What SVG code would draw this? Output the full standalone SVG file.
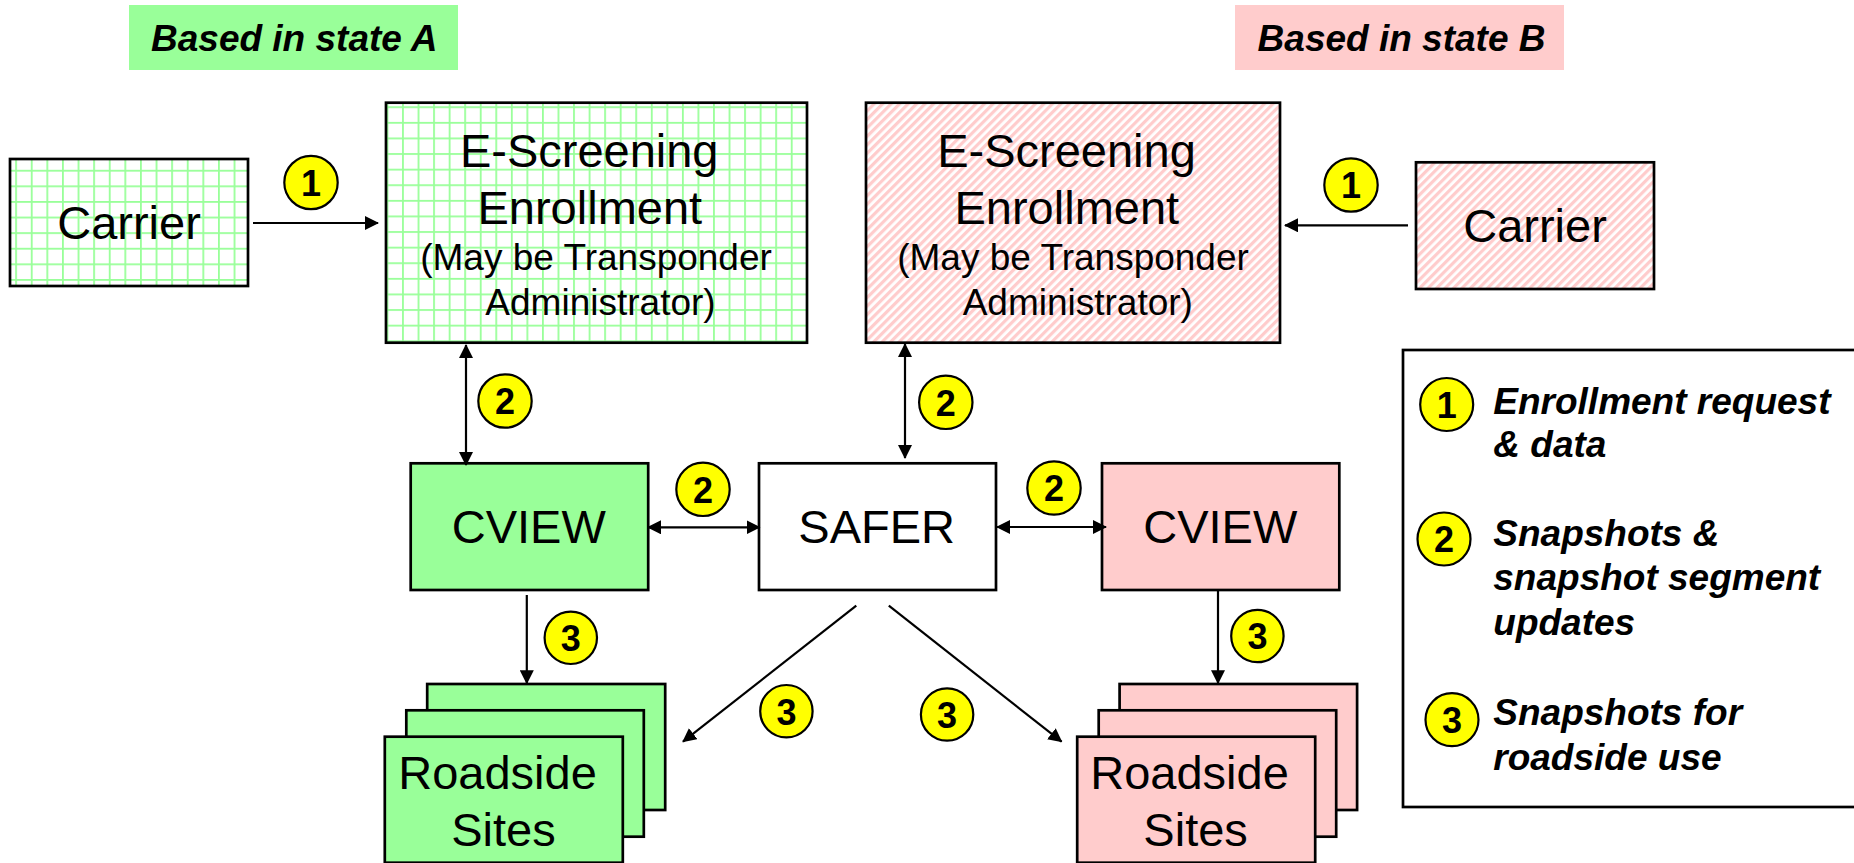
<svg xmlns="http://www.w3.org/2000/svg" width="1854" height="863" viewBox="0 0 1854 863">
<style>
  .box { stroke: #000; stroke-width: 2.7; }
  .green { fill: #99FF99; }
  .pink { fill: #FFCCCC; }
  .white { fill: #FFFFFF; }
  .big { font-family: "Liberation Sans", Arial, sans-serif; font-size: 47px; fill: #000; text-anchor: middle; }
  .small { font-family: "Liberation Sans", Arial, sans-serif; font-size: 37px; fill: #000; text-anchor: middle; }
  .state { font-family: "Liberation Sans", Arial, sans-serif; font-size: 37px; font-weight: bold; font-style: italic; fill: #000; }
  .leg { font-family: "Liberation Sans", Arial, sans-serif; font-size: 37px; font-weight: bold; font-style: italic; fill: #000; }
  .badge circle { fill: #FFFF00; stroke: #000; stroke-width: 2.2; }
  .badge text { font-family: "Liberation Sans", Arial, sans-serif; font-size: 36px; font-weight: bold; fill: #000; text-anchor: middle; }
  .conn { stroke: #000; stroke-width: 2.2; fill: none; }
</style>
<defs>
  <marker id="ah" viewBox="0 0 14 14" refX="13" refY="7" markerWidth="14" markerHeight="14" markerUnits="userSpaceOnUse" orient="auto-start-reverse">
    <path d="M0,0 L14,7 L0,14 z" fill="#000"/>
  </marker>
  <pattern id="gridC" patternUnits="userSpaceOnUse" x="15.2" y="154.2" width="15.6" height="15.6">
    <rect width="15.6" height="15.6" fill="#FFFFFF"/>
    <rect x="0" y="0" width="1.8" height="15.6" fill="#99FF99"/>
    <rect x="0" y="0" width="15.6" height="1.8" fill="#99FF99"/>
  </pattern>
  <pattern id="gridE" patternUnits="userSpaceOnUse" x="386.5" y="106.3" width="15.55" height="15.6">
    <rect width="15.55" height="15.6" fill="#FFFFFF"/>
    <rect x="0" y="0" width="1.8" height="15.6" fill="#99FF99"/>
    <rect x="0" y="0" width="15.55" height="1.8" fill="#99FF99"/>
  </pattern>
  <pattern id="hatch" patternUnits="userSpaceOnUse" width="6" height="6" patternTransform="rotate(45)">
    <rect width="6" height="6" fill="#FFFFFF"/>
    <rect x="0" y="0" width="3.2" height="6" fill="#FFCCCC"/>
  </pattern>
</defs>

<g id="label-state-a">
  <rect x="129" y="5" width="329" height="65" fill="#99FF99"/>
  <text class="state" x="151" y="50.7">Based in state A</text>
</g>
<g id="label-state-b">
  <rect x="1235" y="5" width="329" height="65" fill="#FFCCCC"/>
  <text class="state" x="1257.6" y="50.7">Based in state B</text>
</g>

<g id="carrier-a">
  <rect class="box" x="10" y="159" width="238" height="127" fill="url(#gridC)"/>
  <text class="big" x="129" y="239.3">Carrier</text>
</g>
<g id="escreening-a">
  <rect class="box" x="386" y="102.7" width="421" height="240" fill="url(#gridE)"/>
  <text class="big" x="589.2" y="166.7">E-Screening</text>
  <text class="big" x="589.8" y="224">Enrollment</text>
  <text class="small" x="596" y="270">(May be Transponder</text>
  <text class="small" x="600.5" y="315">Administrator)</text>
</g>
<g id="escreening-b">
  <rect class="box" x="866" y="102.7" width="414" height="240" fill="url(#hatch)"/>
  <text class="big" x="1066.5" y="166.7">E-Screening</text>
  <text class="big" x="1066.8" y="224">Enrollment</text>
  <text class="small" x="1073" y="270">(May be Transponder</text>
  <text class="small" x="1077.8" y="315">Administrator)</text>
</g>
<g id="carrier-b">
  <rect class="box" x="1416" y="162.3" width="238" height="126.7" fill="url(#hatch)"/>
  <text class="big" x="1535" y="242.3">Carrier</text>
</g>

<g id="cview-a">
  <rect class="box green" x="410.7" y="463.3" width="237.5" height="126.7"/>
  <text class="big" x="528.8" y="543.3">CVIEW</text>
</g>
<g id="safer">
  <rect class="box white" x="759" y="463.3" width="237" height="126.7"/>
  <text class="big" x="876.7" y="543.3">SAFER</text>
</g>
<g id="cview-b">
  <rect class="box pink" x="1102" y="463.3" width="237.3" height="126.7"/>
  <text class="big" x="1220.3" y="543.3">CVIEW</text>
</g>

<g id="roadside-a">
  <rect class="box green" x="427.2" y="684" width="238" height="126"/>
  <rect class="box green" x="406.3" y="710.3" width="237.5" height="126.4"/>
  <rect class="box green" x="384.8" y="736.7" width="238" height="126"/>
  <text class="big" x="497.5" y="789.3">Roadside</text>
  <text class="big" x="503.4" y="846">Sites</text>
</g>
<g id="roadside-b">
  <rect class="box pink" x="1119.6" y="684" width="237.5" height="126"/>
  <rect class="box pink" x="1098.7" y="710.3" width="237.5" height="126.4"/>
  <rect class="box pink" x="1077.2" y="736.7" width="238" height="126"/>
  <text class="big" x="1189.5" y="789.3">Roadside</text>
  <text class="big" x="1195.6" y="846">Sites</text>
</g>

<g id="legend">
  <rect x="1403" y="350" width="470" height="457" fill="#FFFFFF" stroke="#000" stroke-width="2.7"/>
  <g class="badge"><circle cx="1446.7" cy="404.5" r="26.5"/><text x="1446.7" y="417.8">1</text></g>
  <text class="leg" x="1493.3" y="414">Enrollment request</text>
  <text class="leg" x="1493.3" y="457.3">&amp; data</text>
  <g class="badge"><circle cx="1444" cy="539" r="26.5"/><text x="1444" y="552.3">2</text></g>
  <text class="leg" x="1493.3" y="546">Snapshots &amp;</text>
  <text class="leg" x="1493.3" y="590">snapshot segment</text>
  <text class="leg" x="1493.3" y="635">updates</text>
  <g class="badge"><circle cx="1452" cy="719.7" r="26.5"/><text x="1452" y="733">3</text></g>
  <text class="leg" x="1493.3" y="725">Snapshots for</text>
  <text class="leg" x="1493.3" y="770">roadside use</text>
</g>

<g id="connectors">
  <line class="conn" x1="253" y1="223" x2="378" y2="223" marker-end="url(#ah)"/>
  <line class="conn" x1="1408" y1="225.3" x2="1285" y2="225.3" marker-end="url(#ah)"/>
  <line class="conn" x1="466" y1="345" x2="466" y2="465" marker-start="url(#ah)" marker-end="url(#ah)"/>
  <line class="conn" x1="905" y1="344" x2="905" y2="458" marker-start="url(#ah)" marker-end="url(#ah)"/>
  <line class="conn" x1="648" y1="527.3" x2="759.5" y2="527.3" marker-start="url(#ah)" marker-end="url(#ah)"/>
  <line class="conn" x1="997" y1="527" x2="1106" y2="527" marker-start="url(#ah)" marker-end="url(#ah)"/>
  <line class="conn" x1="526.8" y1="595" x2="526.8" y2="683.3" marker-end="url(#ah)"/>
  <line class="conn" x1="1218" y1="590" x2="1218" y2="683.3" marker-end="url(#ah)"/>
  <line class="conn" x1="856.3" y1="605.7" x2="683" y2="741.7" marker-end="url(#ah)"/>
  <line class="conn" x1="888.8" y1="605.7" x2="1061.6" y2="741.7" marker-end="url(#ah)"/>
</g>

<g id="connector-labels">
  <g class="badge"><circle cx="311" cy="182.5" r="26.7"/><text x="311" y="195.8">1</text></g>
  <g class="badge"><circle cx="1351" cy="185" r="26.7"/><text x="1351" y="198.3">1</text></g>
  <g class="badge"><circle cx="505" cy="401" r="26.7"/><text x="505" y="414.3">2</text></g>
  <g class="badge"><circle cx="945.8" cy="402.3" r="26.7"/><text x="945.8" y="415.6">2</text></g>
  <g class="badge"><circle cx="703" cy="489.3" r="26.7"/><text x="703" y="502.6">2</text></g>
  <g class="badge"><circle cx="1054" cy="488" r="26.7"/><text x="1054" y="501.3">2</text></g>
  <g class="badge"><circle cx="570.8" cy="637.8" r="26.2"/><text x="570.8" y="651.1">3</text></g>
  <g class="badge"><circle cx="1257.4" cy="636" r="26.2"/><text x="1257.4" y="649.3">3</text></g>
  <g class="badge"><circle cx="786.4" cy="711.2" r="26.2"/><text x="786.4" y="724.5">3</text></g>
  <g class="badge"><circle cx="947.1" cy="714.5" r="26.2"/><text x="947.1" y="727.8">3</text></g>
</g>
</svg>
